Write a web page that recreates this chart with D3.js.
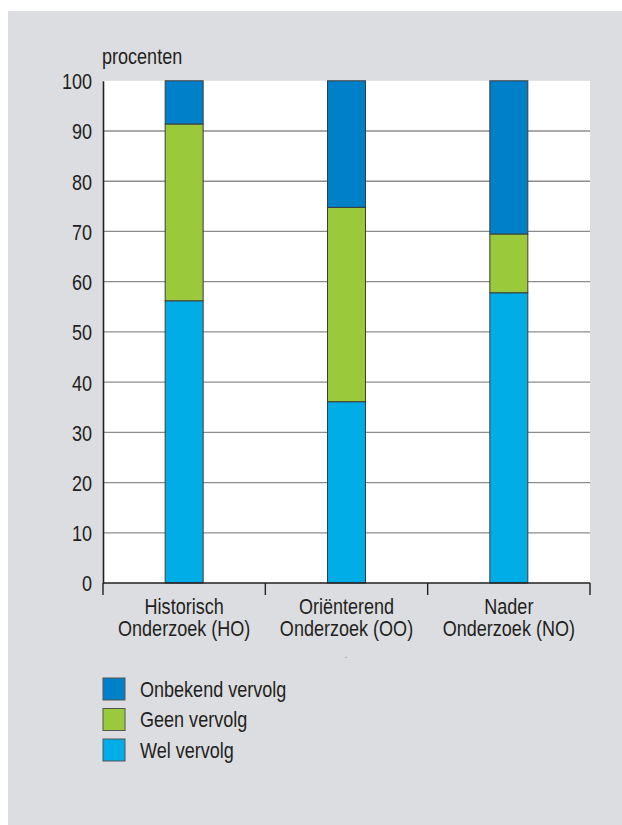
<!DOCTYPE html>
<html><head><meta charset="utf-8">
<script src="https://cdn.jsdelivr.net/npm/d3@7/dist/d3.min.js"></script>
<style>
html,body{margin:0;padding:0;background:#fff;}
text{font-family:"Liberation Sans",Arial,Helvetica,sans-serif;fill:#231f20;}
</style></head>
<body>
<script>
const categories = [["Historisch","Onderzoek (HO)"],["Oriënterend","Onderzoek (OO)"],["Nader","Onderzoek (NO)"]];
const seriesNames = ["Wel vervolg","Geen vervolg","Onbekend vervolg"];
const welValues = [56.2, 36.1, 57.8];
const geenValues = [35.2, 38.7, 11.7];
const onbekendValues = [8.6, 25.2, 30.5];
const seriesColors = ["#00ade6","#9bc93c","#0080c8"];
const yTicks = [0,10,20,30,40,50,60,70,80,90,100];

(function(){
const W=622,H=825,SX=0.82;
function condense(sel){
  sel.attr("transform",function(){
    const ax=+this.getAttribute("x")||0;
    return `translate(${ax},0) scale(${SX},1) translate(${-ax},0)`;
  });
}
const svg=d3.select("body").append("svg").attr("width",W).attr("height",H);
svg.append("rect").attr("x",8).attr("y",11).attr("width",W-8).attr("height",H-11).attr("fill","#dcdde0");

const pL=103,pR=590,pT=80.8,pB=583;
const y=d3.scaleLinear().domain([0,100]).range([pB,pT]);
const keys=categories.map(c=>c.join(" "));
const x=d3.scaleBand().domain(keys).range([pL,pR]).paddingInner(0).paddingOuter(0);
const barW=x.bandwidth()*0.234;

svg.append("rect").attr("x",pL).attr("y",pT).attr("width",pR-pL).attr("height",pB-pT).attr("fill","#fff");

svg.append("g").selectAll("line").data(yTicks.filter(t=>t>0&&t<100)).join("line")
  .attr("x1",pL).attr("x2",pR).attr("y1",d=>y(d)).attr("y2",d=>y(d))
  .attr("stroke","#8c8c8c").attr("stroke-width",1.3);

const rows=keys.map((k,i)=>({key:k,"Wel vervolg":welValues[i],"Geen vervolg":geenValues[i],"Onbekend vervolg":onbekendValues[i]}));
const stack=d3.stack().keys(seriesNames)(rows);
svg.append("g").selectAll("g").data(stack).join("g")
  .attr("fill",(d,i)=>seriesColors[i])
  .selectAll("rect").data(d=>d).join("rect")
  .attr("x",d=>x(d.data.key)+x.bandwidth()/2-barW/2)
  .attr("width",barW)
  .attr("y",d=>y(d[1]))
  .attr("height",d=>y(d[0])-y(d[1]))
  .attr("stroke","#3c3c3c").attr("stroke-width",1);

const yAxis=d3.axisLeft(y).tickValues(yTicks).tickSize(0).tickPadding(11);
const ya=svg.append("g").attr("transform",`translate(${pL},0)`).call(yAxis);
ya.attr("font-family",null).attr("font-size",null);
ya.select(".domain").attr("stroke","#231f20").attr("stroke-width",1.6);
ya.selectAll("text").attr("font-size",22).attr("fill","#231f20").attr("dy","0.36em").call(condense);

const xa=svg.append("g");
xa.append("line").attr("x1",pL).attr("x2",pR).attr("y1",pB).attr("y2",pB).attr("stroke","#231f20").attr("stroke-width",1.6);
const bounds=keys.map(k=>x(k)).concat([pR]);
xa.selectAll("line.tk").data(bounds).join("line").attr("class","tk")
  .attr("x1",d=>d).attr("x2",d=>d).attr("y1",pB).attr("y2",pB+12)
  .attr("stroke","#231f20").attr("stroke-width",1.4);
const lab=xa.selectAll("text.cat").data(categories).join("text").attr("class","cat")
  .attr("text-anchor","middle").attr("font-size",22)
  .attr("x",(d,i)=>x(keys[i])+x.bandwidth()/2).attr("y",614);
lab.selectAll("tspan").data(d=>d).join("tspan")
  .attr("x",function(){return this.parentNode.getAttribute("x");})
  .attr("dy",(d,i)=>i===0?0:22).text(d=>d);
lab.call(condense);

svg.append("text").attr("x",346).attr("y",658).attr("text-anchor","middle").attr("font-size",10).style("fill","#888").text(".");

svg.append("text").attr("x",102).attr("y",64).attr("font-size",22).text("procenten").call(condense);

const legendOrder=["Onbekend vervolg","Geen vervolg","Wel vervolg"];
const lg=svg.append("g").selectAll("g").data(legendOrder).join("g")
  .attr("transform",(d,i)=>`translate(103,${678+i*30.5})`);
lg.append("rect").attr("width",22).attr("height",22)
  .attr("fill",d=>seriesColors[seriesNames.indexOf(d)]).attr("stroke","#555").attr("stroke-width",1);
lg.append("text").attr("x",37).attr("y",18.5).attr("font-size",22).text(d=>d).call(condense);
})();
</script>
</body></html>
